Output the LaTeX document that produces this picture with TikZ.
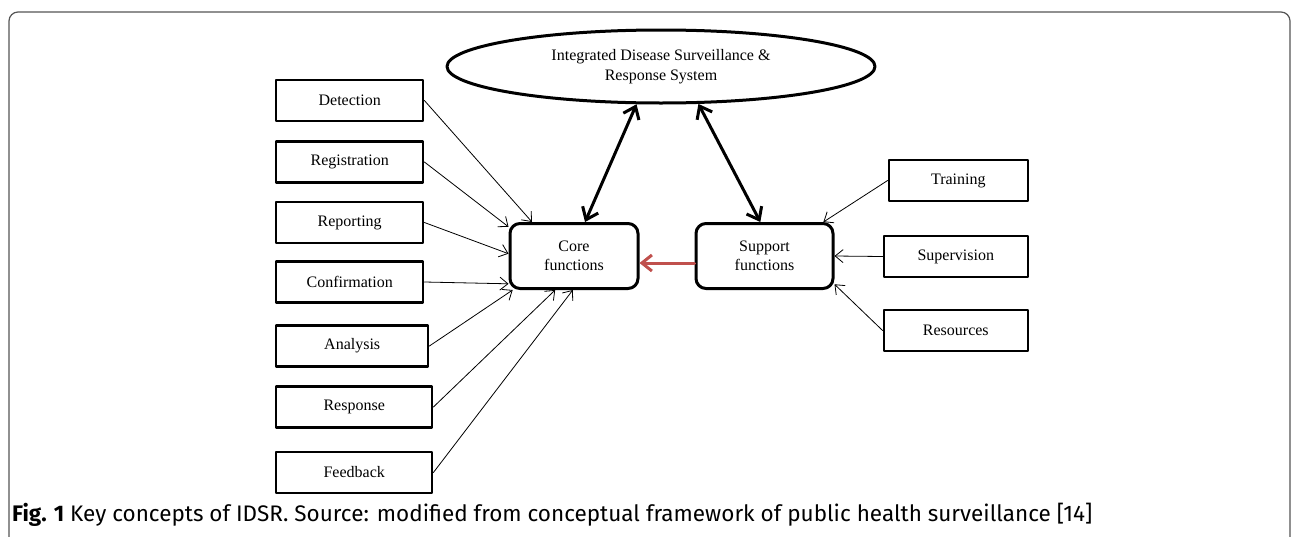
\documentclass[tikz,border=0pt]{standalone}
\usepackage{fontspec}
\setmainfont{Liberation Serif}
\newfontfamily\capfont{Fira Sans}
\usetikzlibrary{calc,shapes.geometric,arrows.meta}
\definecolor{arrowred}{HTML}{C0504D}
\definecolor{framegray}{HTML}{555555}
\def\bh{41}
\def\fw{128}
\def\sw{137}

\begin{document}
\begin{tikzpicture}[x=1pt,y=-1pt,line cap=round,line join=round,
		txt/.style={font=\fontsize{16}{19.5}\selectfont},
		box/.style={txt,draw,line width=2.4pt,minimum height=\bh pt,inner sep=0pt},
		func/.style={txt,draw,line width=3pt,rounded corners=10pt,minimum height=65pt,inner sep=0pt,align=center},
		feed/.style={-{Straight Barb[length=8pt,width=13pt]},line width=0.8pt},
		link/.style={{Straight Barb[length=11pt,width=17pt]}-{Straight Barb[length=11pt,width=17pt]},line width=3pt},
		push/.style={-{Straight Barb[length=10pt,width=16pt]},line width=3pt,arrowred}]
		\useasboundingbox (0,0) rectangle (1293,536);
		
		% Frame
		\draw[framegray,line width=1.2pt,rounded corners=9pt] (9,560) -- (9,12) -- (1290,12) -- (1290,560);
		
		% System
		\node[txt,ellipse,draw,line width=3pt,minimum width=428pt,minimum height=73pt,inner sep=0pt,align=center] (ids) at (661,66.5) {Integrated Disease Surveillance \&\\Response System};
		
		% Functions
		\node[func,minimum width=\fw pt] (core) at (574,256) {Core\\functions};
		\node[func,minimum width=\sw pt] (sup) at (764.5,256) {Support\\functions};
		
		% Core inputs
		\foreach \i/\name/\yy/\w in {1/Detection/100.5/147,2/Registration/162/147,3/Reporting/222.5/147,4/Confirmation/282/147,5/Analysis/346/152,6/Response/407/156,7/Feedback/472.5/156} {
			\node[box,minimum width=\w pt,anchor=west] (in\i) at (275,\yy) {\name};
		}
		\foreach \i/\a in {1/141,2/156,3/178,4/203,5/209,6/241,7/268} {
			\draw[feed] (in\i.east) -- (core.\a);
		}
		
		% Support inputs
		\foreach \i/\name/\yy/\w in {1/Training/180.5/139,2/Supervision/256.5/144,3/Resources/330.5/144} {
			\node[box,minimum width=\w pt,anchor=east] (out\i) at (1029,\yy) {\name};
		}
		\foreach \i/\a in {1/30,2/0,3/338} {
			\draw[feed] (out\i.west) -- (sup.\a);
		}
		
		% Links
		\draw[link] (core.72) -- (ids.237);
		\draw[link] (sup.97) -- (ids.315);
		\draw[push] ($(sup.west)+(0,7)$) -- ($(core.east)+(0,7)$);
		
		% Caption
		\node[anchor=base west,inner sep=0pt,font=\capfont\fontsize{22.5}{27}\selectfont] (caption) at (12,521) {\textbf{Fig. 1} Key concepts of IDSR. Source: modified from conceptual framework of public health surveillance [14]};
\end{tikzpicture}
\end{document}
